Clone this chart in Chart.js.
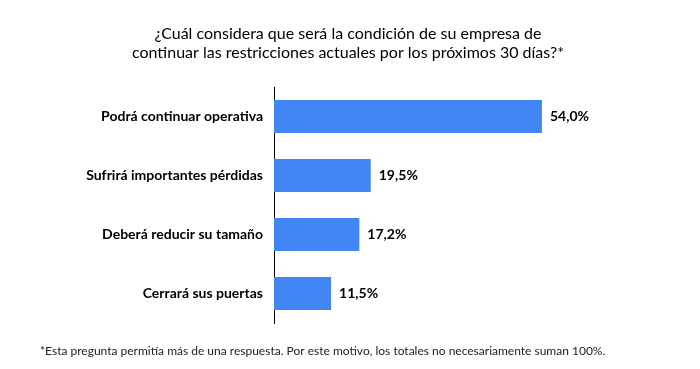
<!DOCTYPE html>
<html>
<head>
<meta charset="utf-8">
<script src="https://cdn.jsdelivr.net/npm/chart.js@4.4.1/dist/chart.umd.min.js"></script>
<style>
  html, body { margin: 0; padding: 0; background: #fff; }
  #wrap { width: 700px; height: 369px; }
</style>
</head>
<body>
<div id="wrap"><canvas id="chart"></canvas></div>
<script>
const categories = [
    'Podrá continuar operativa',
    'Sufrirá importantes pérdidas',
    'Deberá reducir su tamaño',
    'Cerrará sus puertas',
];
const percentages = [54.0, 19.5, 17.2, 11.5];
const titleLines = [
    '¿Cuál considera que será la condición de su empresa de',
    'continuar las restricciones actuales por los próximos 30 días?*',
];
const footnote = '*Esta pregunta permitía más de una respuesta. Por este motivo, los totales no necesariamente suman 100%.';

const fontFamily = 'Lato, "Open Sans", sans-serif';

// value labels at the end of each bar, written with a comma decimal
const barValueLabels = {
    id: 'barValueLabels',
    afterDatasetsDraw(chart) {
        const { ctx } = chart;
        const meta = chart.getDatasetMeta(0);
        ctx.save();
        ctx.font = `bold 14px ${fontFamily}`;
        ctx.fillStyle = '#000';
        ctx.textAlign = 'left';
        ctx.textBaseline = 'middle';
        meta.data.forEach((bar, i) => {
            const text = percentages[i].toFixed(1).replace('.', ',') + '%';
            ctx.fillText(text, bar.x + 8, bar.y);
        });
        ctx.restore();
    },
};

new Chart(document.getElementById('chart'), {
    type: 'bar',
    data: {
        labels: categories,
        datasets: [
            {
                data: percentages,
                backgroundColor: '#4285F4',
                borderWidth: 0,
                barPercentage: 0.56,
                categoryPercentage: 1,
            },
        ],
    },
    options: {
        indexAxis: 'y', // horizontal bars
        responsive: true,
        maintainAspectRatio: false,
        animation: false,
        layout: {
            padding: { left: 40, right: 44, top: 0, bottom: 0 },
        },
        plugins: {
            legend: { display: false },
            tooltip: { enabled: false },
            title: {
                display: true,
                text: titleLines,
                color: '#000',
                font: { family: fontFamily, size: 16, weight: 'normal', lineHeight: 1.2 },
                padding: { top: 24, bottom: 24.6 },
            },
            subtitle: {
                display: true,
                position: 'bottom',
                align: 'start',
                text: footnote,
                color: '#222',
                font: { family: fontFamily, size: 12, weight: 'normal', lineHeight: 1.2 },
                padding: { top: 20.8, bottom: 10.8 },
            },
        },
        scales: {
            x: {
                display: false,
                min: 0,
                max: 77,
            },
            y: {
                grid: { display: false },
                border: { display: true, color: '#000', width: 1 },
                ticks: {
                    color: '#000',
                    padding: 3,
                    font: { family: fontFamily, size: 14, weight: 'bold' },
                },
                afterFit: (scale) => {
                    scale.width = 234;
                },
            },
        },
    },
    plugins: [barValueLabels],
});
</script>
</body>
</html>
